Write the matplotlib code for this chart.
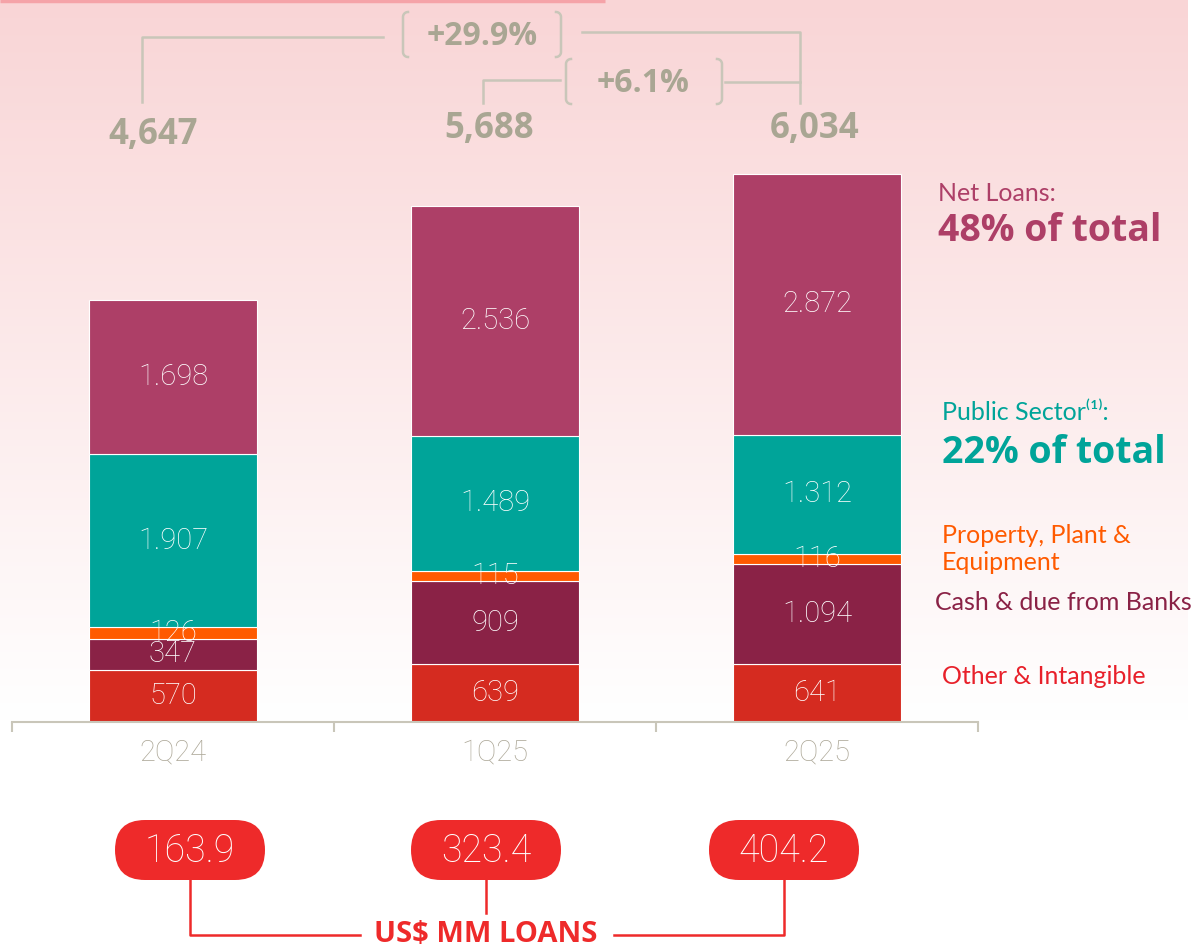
import numpy as np
import matplotlib
matplotlib.use("Agg")
import matplotlib.pyplot as plt
from matplotlib.patches import FancyBboxPatch

# data
quarters = ['2Q24', '1Q25', '2Q25']
other_intangible = [570, 639, 641]
cash_banks = [347, 909, 1094]
ppe = [126, 115, 116]
public_sector = [1907, 1489, 1312]
net_loans = [1698, 2536, 2872]
totals = [4647, 5688, 6034]
growth_labels = ['+29.9%', '+6.1%']
loans_mm = [163.9, 323.4, 404.2]

series = [other_intangible, cash_banks, ppe, public_sector, net_loans]
colors = ['#d52b20', '#8a2246', '#ff5a00', '#00a499', '#ad3f67']

W, H = 1197, 949
GRAY = '#a9a693'
LINE = '#c9c6b9'
RED = '#ee2a2a'
LIGHT = 'Roboto'
REG = ['Lato', 'DejaVu Sans']
BOLD = 'Open Sans'

fig = plt.figure(figsize=(W / 100, H / 100), dpi=100)

# background gradient
bg = fig.add_axes([0, 0, 1, 1])
rows = np.clip(np.arange(H) / 720.0, 0, 1)[:, None]
top = np.array([249, 213, 214]) / 255.0
img = np.ones((H, W, 3))
grad = top[None, :] * (1 - rows) + np.ones(3)[None, :] * rows
img[:, :, :] = grad[:, None, :]
img[:, 1188:, :] = 1.0
bg.imshow(img, aspect='auto', extent=(0, W, H, 0))
bg.set_xlim(0, W)
bg.set_ylim(H, 0)
bg.axis('off')

# bars
scale = 0.0908  # px per unit
ax = fig.add_axes([12 / W, (H - 722) / H, 966 / W, 722 / H])
ax.patch.set_alpha(0)
x = np.arange(len(quarters))
bottom = np.zeros(len(quarters))
for vals, c in zip(series, colors):
    vals = np.array(vals)
    ax.bar(x, vals, width=0.519, bottom=bottom, color=c, edgecolor='white', linewidth=0.8, zorder=2)
    for xi, b, v in zip(x, bottom, vals):
        ax.text(xi, b + v / 2, '{:,}'.format(v).replace(',', '.'), ha='center', va='center',
                color='white', fontsize=21, family=LIGHT, fontweight='light', zorder=3)
    bottom = bottom + vals

ax.set_xlim(-0.5, 2.5)
ax.set_ylim(0, 722 / scale)
for s in ['top', 'right', 'left']:
    ax.spines[s].set_visible(False)
ax.spines['bottom'].set_color(LINE)
ax.spines['bottom'].set_linewidth(1.5)
ax.set_yticks([])
ax.set_xticks(x)
ax.set_xticklabels(quarters, color='#ada898', fontsize=21, family=LIGHT, fontweight='light')
ax.tick_params(axis='x', which='major', length=0, pad=12)
ax.set_xticks([-0.5, 0.5, 1.5, 2.5], minor=True)
ax.tick_params(axis='x', which='minor', length=7, width=1.5, color=LINE, direction='out')

# overlay in pixel coordinates
ov = fig.add_axes([0, 0, 1, 1])
ov.set_xlim(0, W)
ov.set_ylim(H, 0)
ov.axis('off')
ov.patch.set_alpha(0)

ov.plot([0, 605], [1, 1], color='#f5a3a8', lw=2.5, solid_capstyle='butt')


def paren(xp, y0, y1, side, r=5):
    t = np.linspace(0, np.pi / 2, 12)
    px = np.concatenate([xp + r - r * np.sin(t), [xp, xp], xp + r - r * np.cos(t)])
    py = np.concatenate([y0 + r - r * np.cos(t), [y0 + r, y1 - r], y1 - r + r * np.sin(t)])
    if side == 'right':
        px = 2 * xp - px
    ov.plot(px, py, color=LINE, lw=1.8)


# growth brackets
ov.plot([142, 142, 383], [102, 37, 37], color=LINE, lw=1.8)
ov.plot([582, 800, 800], [32, 32, 103], color=LINE, lw=1.8)
paren(403, 12, 57, 'left')
paren(561, 12, 57, 'right')
ov.text(482, 36, growth_labels[0], ha='center', va='center', color=GRAY,
        fontsize=23, family=BOLD, fontweight='bold')

ov.plot([483, 483, 560], [103, 80, 80], color=LINE, lw=1.8)
ov.plot([725, 800], [82, 82], color=LINE, lw=1.8)
paren(566, 59, 104, 'left')
paren(722, 59, 104, 'right')
ov.text(643, 83, growth_labels[1], ha='center', va='center', color=GRAY,
        fontsize=23, family=BOLD, fontweight='bold')

# totals
total_pos = [(153, 135), (489, 129), (815, 129)]
for (tx, ty), t in zip(total_pos, totals):
    ov.text(tx, ty, '{:,}'.format(t), ha='center', va='center', color=GRAY,
            fontsize=25, family=BOLD, fontweight='bold')

# right side labels
ov.text(938, 193, 'Net Loans:', color='#ad3f67', fontsize=18, family=REG, va='center')
ov.text(938, 231, '48% of total', color='#ad3f67', fontsize=27, family=BOLD,
        fontweight='bold', va='center')
ov.text(942, 413, 'Public Sector\u207d\u00b9\u207e:', color='#00a499', fontsize=18, family=REG,
        va='center')
ov.text(942, 453, '22% of total', color='#00a499', fontsize=27, family=BOLD,
        fontweight='bold', va='center')
ov.text(942, 549, 'Property, Plant &\nEquipment', color='#ff5a00', fontsize=18,
        family=REG, va='center', linespacing=1.2)
ov.text(935, 603, 'Cash & due from Banks', color='#8a2246', fontsize=18, family=REG, va='center')
ov.text(942, 676, 'Other & Intangible', color='#e8202a', fontsize=18, family=REG, va='center')

# loan pills
pill_x = [190, 486, 784]
for px_, v in zip(pill_x, loans_mm):
    ov.add_patch(FancyBboxPatch((px_ - 75, 820), 150, 60,
                                boxstyle='round,pad=0,rounding_size=30',
                                facecolor=RED, edgecolor='none'))
    ov.text(px_, 851, '{:.1f}'.format(v), ha='center', va='center', color='white',
            fontsize=27, family=LIGHT, fontweight='light')

ov.plot([190, 190, 360], [880, 935, 935], color=RED, lw=1.8)
ov.plot([486, 486], [880, 913], color=RED, lw=1.8)
ov.plot([614, 784, 784], [935, 935, 880], color=RED, lw=1.8)
ov.text(486, 934, 'US$ MM LOANS', ha='center', va='center', color=RED,
        fontsize=21, family=BOLD, fontweight='bold')

fig.savefig('out.png', dpi=100)
